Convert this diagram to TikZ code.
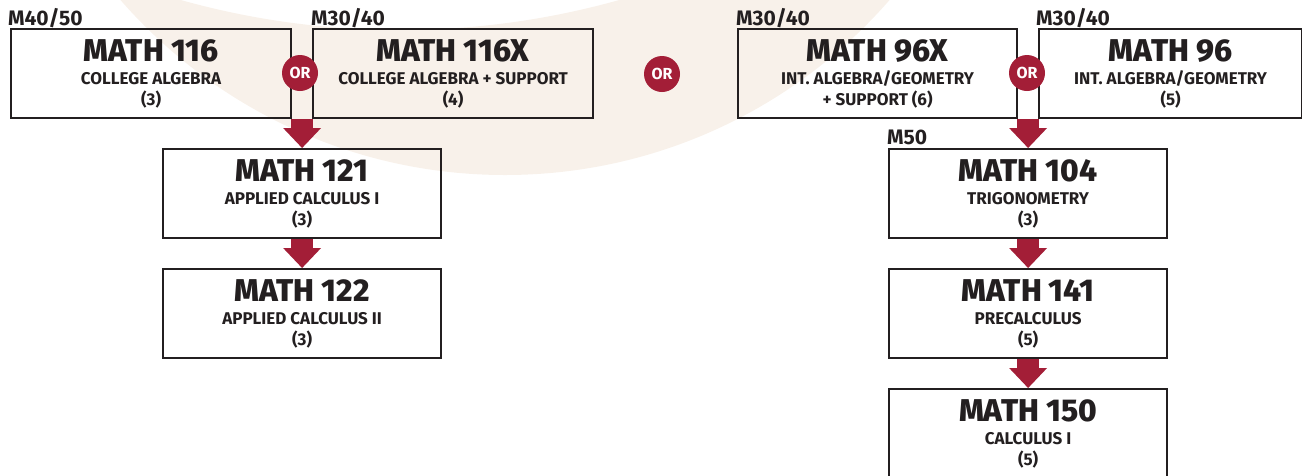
\documentclass[tikz,border=0pt]{standalone}
\usepackage{fontspec}
\setmainfont{Fira Sans}
\newfontfamily\heavyfont{Fira Sans ExtraBold}
\usetikzlibrary{arrows.meta,calc}

\definecolor{ink}{HTML}{231F20}
\definecolor{crimson}{HTML}{A31E37}
\definecolor{sand}{HTML}{F8F1EA}

\tikzset{
  coursebox/.style={draw=ink, line width=2.2pt, minimum height=89pt,
    inner sep=0pt, anchor=north west},
  ttl/.style={anchor=base, inner sep=0pt, text=ink,
    font=\heavyfont\fontsize{31.5}{31.5}\selectfont},
  sub/.style={anchor=base, inner sep=0pt, text=ink,
    font=\bfseries\fontsize{17}{17}\selectfont},
  lvl/.style={anchor=base west, inner sep=0pt, text=ink,
    font=\bfseries\fontsize{21}{21}\selectfont},
  ornode/.style={circle, fill=crimson, minimum size=36pt, inner sep=0pt,
    text=white, font=\bfseries\fontsize{16}{16}\selectfont},
  flow/.style={crimson, line width=22pt,
    -{Triangle[width=38pt,length=20pt,line width=0pt]}}
}

% course box: name, left, top, width, title, line 1, line 2
\newcommand\course[7]{%
  \node[coursebox, minimum width=#4] (#1) at (#2,#3) {};
  \node[ttl] (#1-t) at ($(#1.north)+(0,33)$) {#5};
  \node[sub] (#1-s) at ($(#1.north)+(0,56)$) {#6};
  \node[sub] (#1-c) at ($(#1.north)+(0,77)$) {#7};
}

\begin{document}
\begin{tikzpicture}[x=1pt,y=-1pt]
  \useasboundingbox (0,0) rectangle (1302,475);

  % pale crescent behind the top row
  \begin{scope}
    \clip (0,0) rectangle (1302,475);
    \fill[sand, even odd rule] (505,-335) circle (510pt) (400,-780) circle (810pt);
  \end{scope}

  % left track
  \course{m116}{10}{28}{280pt}{MATH 116}{COLLEGE ALGEBRA}{(3)}
  \course{m116x}{312}{28}{280pt}{MATH 116X}{COLLEGE ALGEBRA + SUPPORT}{(4)}
  \course{m121}{162}{148}{278pt}{MATH 121}{APPLIED CALCULUS I}{(3)}
  \course{m122}{162}{268}{278pt}{MATH 122}{APPLIED CALCULUS II}{(3)}

  % right track
  \course{m96x}{737}{28}{279pt}{MATH 96X}{INT. ALGEBRA/GEOMETRY}{+ SUPPORT (6)}
  \course{m96}{1038}{28}{263pt}{MATH 96}{INT. ALGEBRA/GEOMETRY}{(5)}
  \course{m104}{888}{148}{278pt}{MATH 104}{TRIGONOMETRY}{(3)}
  \course{m141}{888}{268}{278pt}{MATH 141}{PRECALCULUS}{(5)}
  \course{m150}{888}{388}{278pt}{MATH 150}{CALCULUS I}{(5)}

  % placement levels
  \node[lvl] (l116)  at (8,25)    {M40/50};
  \node[lvl] (l116x) at (311,25)  {M30/40};
  \node[lvl] (l96x)  at (736,25)  {M30/40};
  \node[lvl] (l96)   at (1036,25) {M30/40};
  \node[lvl] (l104)  at (887,144) {M50};

  % junctions below each pair of alternatives
  \coordinate (gl) at ($(m116.south east)!0.5!(m116x.south west)$);
  \coordinate (gr) at ($(m96x.south east)!0.5!(m96.south west)$);

  % arrows
  \draw[flow] (gl) -- (m121.north);
  \draw[flow] (m121.south) -- (m122.north);
  \draw[flow] (gr) -- (m104.north);
  \draw[flow] (m104.south) -- (m141.north);
  \draw[flow] (m141.south) -- (m150.north);

  % alternatives
  \node[ornode] (or1) at (300,73) {OR};
  \node[ornode] (or2) at (662,74) {OR};
  \node[ornode] (or3) at (1027,73) {OR};
\end{tikzpicture}
\end{document}
